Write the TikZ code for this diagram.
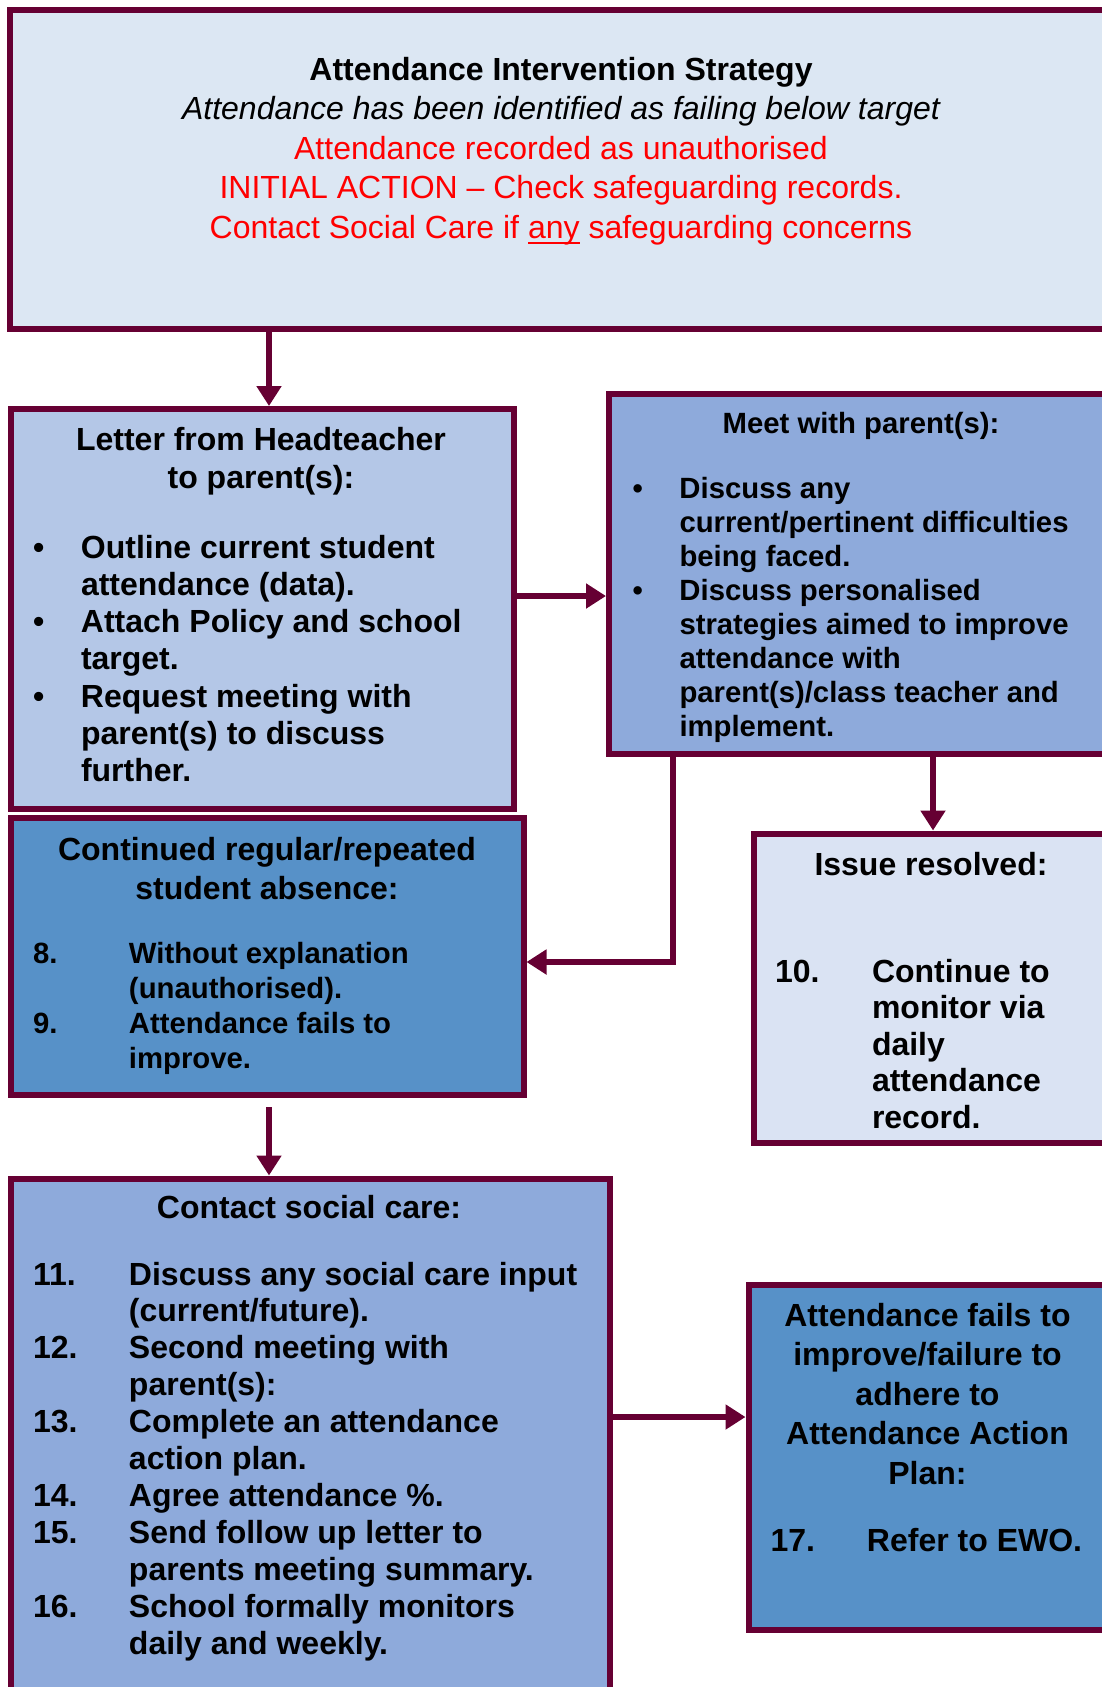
\documentclass[tikz,border=0pt]{standalone}
\usepackage{fontspec}
\setmainfont{Liberation Sans}
\usetikzlibrary{arrows.meta}
\definecolor{bord}{HTML}{660033}
\definecolor{fillTop}{HTML}{DCE7F3}
\definecolor{fillLetter}{HTML}{B4C7E7}
\definecolor{fillMid}{HTML}{8EAADB}
\definecolor{fillDark}{HTML}{5791C8}
\definecolor{fillLight}{HTML}{DAE3F3}
\definecolor{redtxt}{HTML}{FF0000}
\newcommand\cblk[3]{\vtop{\fontsize{#1}{#2}\selectfont\bfseries\halign{\hfil##\hfil\cr#3\crcr}}}
\newcommand\lblk[3]{\vtop{\fontsize{#1}{#2}\selectfont\bfseries #3}}
\newcommand\lrow[3]{\hbox{\hbox to #1{#2\hfil}#3}}
\newcommand\myul[1]{\setbox0=\hbox{#1}\rlap{\rule[-6pt]{\wd0}{2.5pt}}\box0\relax}
\begin{document}
\begin{tikzpicture}[x=1pt,y=-1pt,
  box/.style={draw=bord, line width=6pt, rectangle, inner sep=0pt, outer sep=3pt},
  txt/.style={inner sep=0pt, outer sep=0pt},
  conn/.style={draw=bord, line width=6pt, -{Triangle[length=20pt,width=24pt]}}]
\useasboundingbox (0,0) rectangle (1102,1687);
\clip (0,0) rectangle (1102,1687);
% boxes
\node[box, fill=fillTop, minimum width=1102pt, minimum height=319pt] (top) at (561,169.5) {};
\node[box, fill=fillLetter, minimum width=503pt, minimum height=399.5pt] (letter) at (262.5,608.75) {};
\node[box, fill=fillMid, minimum width=504pt, minimum height=360pt] (meet) at (861,574) {};
\node[box, fill=fillDark, minimum width=512.5pt, minimum height=277pt] (cont) at (267.25,956.5) {};
\node[box, fill=fillLight, minimum width=356pt, minimum height=309.5pt] (issue) at (932,988.25) {};
\node[box, fill=fillMid, minimum width=599pt, minimum height=541.5pt] (contact) at (310.5,1449.25) {};
\node[box, fill=fillDark, minimum width=359.5pt, minimum height=345pt] (fails) at (928.25,1457.5) {};
% texts
\node[txt, anchor=base] (toptext) at (561,80) {\cblk{32}{39.6}{Attendance Intervention Strategy\cr
  \mdseries\itshape Attendance has been identified as failing below target\cr
  \mdseries\textcolor{redtxt}{Attendance recorded as unauthorised}\cr
  \mdseries\textcolor{redtxt}{INITIAL ACTION – Check safeguarding records.}\cr
  \mdseries\textcolor{redtxt}{Contact Social Care if \myul{any} safeguarding concerns}}};
\node[txt, anchor=base] (letterhead) at (261,450) {\cblk{32}{38}{Letter from Headteacher\cr to parent(s):}};
\node[txt, anchor=base west] (letterlist) at (33,558) {\lblk{32}{37.3}{%
  \lrow{48pt}{\textbullet}{Outline current student}%
  \lrow{48pt}{}{attendance (data).}%
  \lrow{48pt}{\textbullet}{Attach Policy and school}%
  \lrow{48pt}{}{target.}%
  \lrow{48pt}{\textbullet}{Request meeting with}%
  \lrow{48pt}{}{parent(s) to discuss}%
  \lrow{48pt}{}{further.}}};
\node[txt, anchor=base] (meethead) at (861,433) {\cblk{29.3}{34}{Meet with parent(s):}};
\node[txt, anchor=base west] (meetlist) at (632.5,498) {\lblk{29.3}{34.1}{%
  \lrow{47pt}{\textbullet}{Discuss any}%
  \lrow{47pt}{}{current/pertinent difficulties}%
  \lrow{47pt}{}{being faced.}%
  \lrow{47pt}{\textbullet}{Discuss personalised}%
  \lrow{47pt}{}{strategies aimed to improve}%
  \lrow{47pt}{}{attendance with}%
  \lrow{47pt}{}{parent(s)/class teacher and}%
  \lrow{47pt}{}{implement.}}};
\node[txt, anchor=base] (conthead) at (267,860) {\cblk{32}{39}{Continued regular/repeated\cr student absence:}};
\node[txt, anchor=base west] (contlist) at (33,963) {\lblk{29.3}{35}{%
  \lrow{96pt}{8.}{Without explanation}%
  \lrow{96pt}{}{(unauthorised).}%
  \lrow{96pt}{9.}{Attendance fails to}%
  \lrow{96pt}{}{improve.}}};
\node[txt, anchor=base] (issuehead) at (931,875) {\cblk{32}{37}{Issue resolved:}};
\node[txt, anchor=base west] (issuelist) at (775,982) {\lblk{32}{36.5}{%
  \lrow{97pt}{10.}{Continue to}%
  \lrow{97pt}{}{monitor via}%
  \lrow{97pt}{}{daily}%
  \lrow{97pt}{}{attendance}%
  \lrow{97pt}{}{record.}}};
\node[txt, anchor=base] (contacthead) at (309,1218.5) {\cblk{32}{37}{Contact social care:}};
\node[txt, anchor=base west] (contactlist) at (33,1285) {\lblk{32}{36.9}{%
  \lrow{96pt}{11.}{Discuss any social care input}%
  \lrow{96pt}{}{(current/future).}%
  \lrow{96pt}{12.}{Second meeting with}%
  \lrow{96pt}{}{parent(s):}%
  \lrow{96pt}{13.}{Complete an attendance}%
  \lrow{96pt}{}{action plan.}%
  \lrow{96pt}{14.}{Agree attendance \%.}%
  \lrow{96pt}{15.}{Send follow up letter to}%
  \lrow{96pt}{}{parents meeting summary.}%
  \lrow{96pt}{16.}{School formally monitors}%
  \lrow{96pt}{}{daily and weekly.}}};
\node[txt, anchor=base] (failshead) at (927.5,1326) {\cblk{32}{39.5}{Attendance fails to\cr improve/failure to\cr adhere to\cr Attendance Action\cr Plan:}};
\node[txt, anchor=base west] (failslist) at (770.5,1551) {\lblk{32}{37}{%
  \lrow{96.5pt}{17.}{Refer to EWO.}}};
% connectors
\coordinate (ax) at (269,0);
\coordinate (ay) at (0,596);
\coordinate (ex) at (673,962);
\coordinate (ix) at (933,0);
\coordinate (cs) at (269,1107);
\coordinate (fy) at (0,1417);
\draw[conn] (top.south -| ax) -- (letter.north -| ax);
\draw[conn] (letter.east |- ay) -- (meet.west |- ay);
\draw[conn] (meet.south -| ex) |- (cont.east |- ex);
\draw[conn] (meet.south -| ix) -- (issue.north -| ix);
\draw[conn] (cs) -- (contact.north -| cs);
\draw[conn] (contact.east |- fy) -- (fails.west |- fy);
\end{tikzpicture}
\end{document}
